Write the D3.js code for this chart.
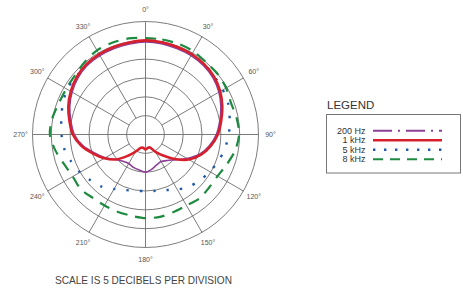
<!DOCTYPE html>
<html>
<head>
<meta charset="utf-8">
<script src="https://cdn.jsdelivr.net/npm/d3@7"></script>
<style>
  body { margin: 0; background: #fff; }
  svg { display: block; }
</style>
</head>
<body>
<script>
// angles every 10 degrees, values in dB (0 = outer ring)
const angles = d3.range(0, 360, 10)

const hz200 = [-5.4, -5.5, -5.7, -5.8, -6.1, -6.6, -7.5, -8.7, -10.0, -11.2, -12.8, -14.7, -17.3, -19.6, -21.0, -21.7, -21.4, -20.6,
               -20.0, -20.4, -20.7, -21.1, -20.7, -19.7, -17.6, -15.6, -13.1, -11.1, -9.9, -8.6, -7.5, -6.6, -6.0, -5.8, -5.7, -5.6]
const khz1  = [-5.0, -5.15, -5.3, -5.4, -5.7, -6.2, -7.1, -8.3, -9.6, -10.8, -12.4, -14.3, -16.7, -19.9, -22.7, -24.7, -26.3, -26.4,
               -26.0, -26.4, -26.2, -24.8, -22.6, -19.7, -17.4, -15.2, -12.7, -10.7, -9.5, -8.2, -7.1, -6.2, -5.6, -5.4, -5.3, -5.2]
const khz5  = [-5.15, -5.15, -5.3, -5.4, -5.7, -6.1, -6.3, -6.6, -7.3, -7.9, -8.6, -9.4, -10.3, -11.1, -12.0, -13.1, -14.3, -14.8,
               -15.0, -14.8, -14.3, -13.3, -11.9, -11.0, -9.9, -9.0, -8.1, -7.7, -7.3, -6.6, -6.0, -6.0, -5.8, -5.55, -5.4, -5.15]
const khz8  = [-4.4, -4.4, -4.4, -4.5, -5.0, -5.0, -5.3, -5.8, -5.4, -5.15, -5.8, -7.0, -7.9, -8.0, -7.8, -8.25, -8.1, -7.8,
               -7.8, -8.1, -8.2, -8.25, -8.1, -7.5, -7.7, -7.0, -5.7, -4.6, -4.9, -5.55, -5.7, -5.55, -4.9, -4.2, -4.1, -4.1]

const seriesNames = ['200 Hz', '1 kHz', '5 kHz', '8 kHz']
const seriesData = [hz200, khz1, khz5, khz8]

const ringLevels = [-25, -20, -15, -10, -5, 0]
const spokeAngles = d3.range(0, 360, 30)
const scaleNote = 'SCALE IS 5 DECIBELS PER DIVISION'

const w = 463
const h = 290
const cx = 145.5
const cy = 134.5
const R = 113

const styles = [
  { color: '#8c3f97', width: 1.6, dash: null, legendDash: '19,6,2,6' },
  { color: '#d7202c', width: 2.6, dash: null, legendDash: null },
  { color: '#2059a8', width: 2.4, dash: '2.4,11', legendDash: '2.4,8.6' },
  { color: '#1d8a40', width: 2.2, dash: '11,8', legendDash: '10,7' }
]

const svg = d3.select('body')
    .append('svg')
    .attr('width', w)
    .attr('height', h)

const r = d3.scaleLinear().domain([-30, 0]).range([0, R])
const rad = d => d * Math.PI / 180

const plot = svg.append('g').attr('transform', `translate(${cx},${cy})`)

// rings
plot.selectAll('circle.ring')
    .data(ringLevels)
    .enter()
    .append('circle')
    .attr('class', 'ring')
    .attr('r', d => r(d))
    .attr('fill', 'none')
    .attr('stroke', '#6d6d6d')
    .attr('stroke-width', 0.9)

// spokes: main cross goes to centre, others stop at the inner ring
plot.selectAll('line.spoke')
    .data(spokeAngles)
    .enter()
    .append('line')
    .attr('class', 'spoke')
    .attr('x1', d => (d % 90 === 0 ? 0 : r(-25)) * Math.sin(rad(d)))
    .attr('y1', d => -(d % 90 === 0 ? 0 : r(-25)) * Math.cos(rad(d)))
    .attr('x2', d => r(0) * Math.sin(rad(d)))
    .attr('y2', d => -r(0) * Math.cos(rad(d)))
    .attr('stroke', '#6d6d6d')
    .attr('stroke-width', 0.9)

plot.selectAll('text.angle')
    .data(spokeAngles)
    .enter()
    .append('text')
    .attr('class', 'angle')
    .attr('x', d => (R + 12) * Math.sin(rad(d)))
    .attr('y', d => -(R + 12) * Math.cos(rad(d)))
    .attr('dy', '0.35em')
    .attr('text-anchor', 'middle')
    .attr('font-family', 'Liberation Sans, Arial, sans-serif')
    .attr('font-size', 7)
    .attr('fill', '#555')
    .text(d => d + '°')

const line = d3.lineRadial()
    .angle(d => rad(d[0]))
    .radius(d => r(d[1]))
    .curve(d3.curveCardinalClosed.tension(0.2))

// draw order: 8k, 5k, 200, 1k on top
const order = [3, 2, 0, 1]
plot.selectAll('path.pattern')
    .data(order)
    .enter()
    .append('path')
    .attr('class', 'pattern')
    .attr('d', i => line(angles.map((a, j) => [a, seriesData[i][j]])))
    .attr('fill', 'none')
    .attr('stroke', i => styles[i].color)
    .attr('stroke-width', i => styles[i].width)
    .attr('stroke-dasharray', i => styles[i].dash)

// legend
svg.append('text')
    .attr('x', 327)
    .attr('y', 108.5)
    .attr('font-family', 'Liberation Sans Narrow, Arial Narrow, sans-serif')
    .attr('font-size', 11.5)
    .attr('fill', '#333')
    .text('LEGEND')

svg.append('rect')
    .attr('x', 326.5)
    .attr('y', 114.5)
    .attr('width', 134)
    .attr('height', 58.5)
    .attr('fill', 'none')
    .attr('stroke', '#777')
    .attr('stroke-width', 1)

const legendY = d3.scaleBand().domain(seriesNames).range([126, 164])

const item = svg.selectAll('g.item')
    .data(seriesNames)
    .enter()
    .append('g')
    .attr('class', 'item')
    .attr('transform', d => `translate(0,${legendY(d) + legendY.bandwidth() / 2})`)

item.append('text')
    .attr('x', 365.5)
    .attr('dy', '0.35em')
    .attr('text-anchor', 'end')
    .attr('font-family', 'Liberation Sans Narrow, Arial Narrow, sans-serif')
    .attr('font-size', 9)
    .attr('fill', '#333')
    .text(d => d)

item.append('line')
    .attr('x1', 373)
    .attr('x2', 442)
    .attr('stroke', (d, i) => styles[i].color)
    .attr('stroke-width', (d, i) => i === 1 ? 2.6 : (i === 2 ? 2.4 : 2))
    .attr('stroke-dasharray', (d, i) => styles[i].legendDash)

svg.append('text')
    .attr('x', 55)
    .attr('y', 283.5)
    .attr('font-family', 'Liberation Sans Narrow, Arial Narrow, sans-serif')
    .attr('font-size', 10.5)
    .attr('fill', '#444')
    .attr('textLength', 177)
    .attr('lengthAdjust', 'spacingAndGlyphs')
    .text(scaleNote)
</script>
</body>
</html>
